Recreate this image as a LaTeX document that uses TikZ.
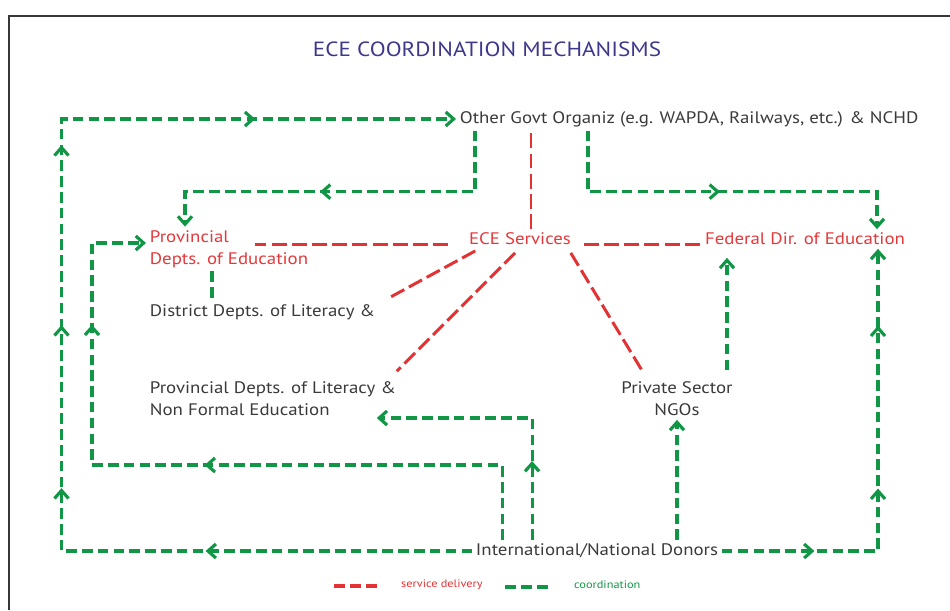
\documentclass[tikz,border=0pt]{standalone}
\usepackage{fontspec}
\setmainfont[FakeStretch=1.13]{PT Sans}
\usetikzlibrary{arrows.meta,calc,decorations.markings}

\definecolor{svcred}{RGB}{226,50,52}
\definecolor{coordgreen}{RGB}{16,150,68}
\definecolor{textred}{RGB}{228,56,58}
\definecolor{textgray}{RGB}{58,58,58}
\definecolor{titleblue}{RGB}{62,56,140}
\definecolor{framegray}{RGB}{55,55,55}

\tikzset{
  svc/.style={draw=svcred, line width=1.7pt, dash pattern=on 8.5pt off 3pt},
  coord/.style={color=coordgreen, draw, line width=1.8pt, dash pattern=on 6pt off 3pt},
  barb/.style={-{Straight Barb[length=4.5pt,width=8pt]}},
  midbarb/.style={postaction={decorate,decoration={markings,
      mark=at position #1 with {\arrow{Straight Barb[length=4.5pt,width=8pt]}}}}},
  lbl/.style={text=textgray, inner sep=2pt, font=\fontsize{9.5}{12.5}\selectfont},
  redlbl/.style={lbl, text=textred},
}

\begin{document}
\begin{tikzpicture}[x=0.02cm, y=-0.02cm]
  \useasboundingbox (0,0) rectangle (950,610);
  \draw[framegray, line width=1.1pt] (950,16) -- (9,16) -- (9,610);

  \node[font=\fontsize{11.7}{14}\selectfont, text=titleblue] (title) at (487,49) {ECE COORDINATION MECHANISMS};

  % bodies
  \node[lbl, anchor=west] (other) at (456,119) {Other Govt Organiz (e.g. WAPDA, Railways, etc.) \& NCHD};
  \node[redlbl] (ece) at (520,239) {ECE Services};
  \node[redlbl] (federal) at (805,239) {Federal Dir. of Education};
  \node[redlbl, anchor=west, align=left] (provedu) at (146,249) {Provincial\\Depts. of Education};
  \node[lbl, anchor=west] (district) at (146,312) {District Depts. of Literacy \&};
  \node[lbl, anchor=west, align=left] (provlit) at (146,399) {Provincial Depts. of Literacy \&\\Non Formal Education};
  \node[lbl, align=center] (ngos) at (677,399) {Private Sector\\NGOs};
  \node[lbl] (donors) at (597,551) {International/National Donors};

  % service delivery
  \draw[svc] ($(ece.north)+(11,0)$) -- ($(other.south west)+(75,0)$);
  \draw[svc] ($(ece.west)+(-17,5)$) -- ($(provedu.west)+(109,-5)$);
  \draw[svc] ($(ece.east)+(9,5)$) -- ($(federal.west)+(0,5)$);
  \draw[svc] ($(ece.south west)+(10,2)$) -- ($(district.east)+(10,-14)$);
  \draw[svc] ($(ece.south)+(-5,4)$) -- ($(provlit.north east)+(-3,-7)$);
  \draw[svc] ($(ece.south east)+(-4,4)$) -- ($(ngos.north)+(-34,-6)$);

  % coordination
  \draw[coord, barb, midbarb=5.33cm, midbarb=9.47cm, midbarb=12.73cm, midbarb=16.33cm, midbarb=20.73cm]
    (donors.west) -| ($(other.west)+(-394.5,0)$) -- (other.west);
  \draw[coord, barb, midbarb=7.45cm, midbarb=12.51cm]
    ($(donors.north west)+(30,0)$) |- (92,465) |- ($(provedu.west)+(0,-6)$);
  \draw[coord, barb, midbarb=1.58cm]
    ($(donors.north west)+(60,0)$) |- ($(provlit.east)+(-23,19)$);
  \draw[coord, barb] (donors.north -| ngos.south) -- (ngos.south);
  \draw[coord, barb] ($(ngos.north)+(50,-8)$) -- ($(federal.south)+(-78,9)$);
  \draw[coord, barb, midbarb=1.85cm, midbarb=4.37cm, midbarb=7.63cm]
    (donors.east) -| ($(federal.south)+(73,0)$);
  \draw[coord, barb, midbarb=4.32cm]
    ($(other.south west)+(19,0)$) -- ++(0,61) -| ($(provedu.north west)+(39,0)$);
  \draw[coord, barb, midbarb=3.86cm]
    ($(other.south west)+(132,0)$) -- ++(0,61) -| ($(federal.north)+(72,0)$);
  \draw[coord] ($(provedu.south west)+(66,0)$) -- ($(district.north west)+(66,0)$);

  % legend
  \node[text=svcred, font=\fontsize{6.2}{8}\selectfont, anchor=west] (legsvc) at (395,585) {service delivery};
  \node[text=coordgreen, font=\fontsize{6.2}{8}\selectfont, anchor=west] (legcoord) at (568,585) {coordination};
  \draw[svc, line width=2.2pt, dash pattern=on 6.5pt off 2.5pt] ($(legsvc.west)+(-61,1)$) -- ($(legsvc.west)+(-15,1)$);
  \draw[coord, line width=2.2pt, dash pattern=on 6.5pt off 2.5pt] ($(legcoord.west)+(-63,2)$) -- ($(legcoord.west)+(-17,2)$);
\end{tikzpicture}
\end{document}
